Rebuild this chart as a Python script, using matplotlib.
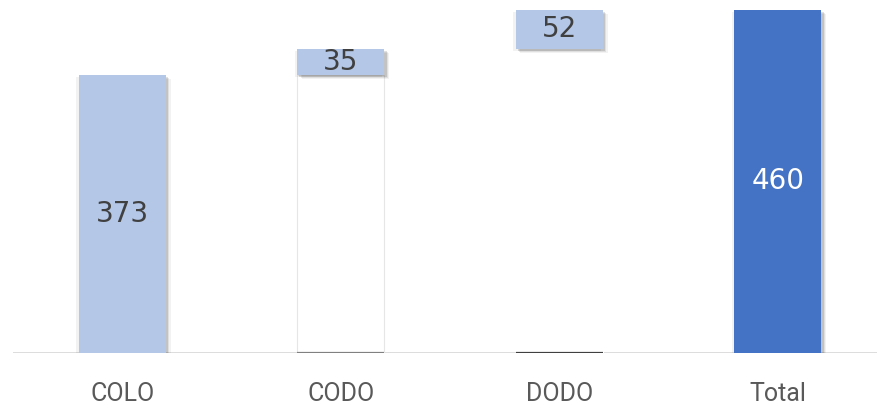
import matplotlib.pyplot as plt
import matplotlib.patheffects as pe

categories = ["COLO", "CODO", "DODO", "Total"]
values = [373, 35, 52, 460]
kinds = ["step", "step", "step", "total"]

light_blue = "#B4C7E7"
dark_blue = "#4472C4"

# bottoms for the floating steps
bottoms = []
running = 0
for v, k in zip(values, kinds):
    if k == "total":
        bottoms.append(0)
    else:
        bottoms.append(running)
        running += v

fig = plt.figure(figsize=(8.77, 4.08), dpi=100)
ax = fig.add_axes([13 / 877, 55 / 408, (4 * 218.5) / 877, 353 / 408])
ax.set_xlim(-0.5, 3.5)
ax.set_ylim(0, 473.4)

shadow = [
    pe.SimplePatchShadow(offset=(3.5, -3), shadow_rgbFace="#000000", alpha=0.05),
    pe.SimplePatchShadow(offset=(2.5, -2), shadow_rgbFace="#000000", alpha=0.08),
    pe.SimplePatchShadow(offset=(1.5, -1.5), shadow_rgbFace="#000000", alpha=0.12),
    pe.SimplePatchShadow(offset=(-1.5, -1.5), shadow_rgbFace="#000000", alpha=0.05),
    pe.Normal(),
]

width = 0.4
for i, (v, b, k) in enumerate(zip(values, bottoms, kinds)):
    # invisible base under floating steps
    if b > 0:
        ax.bar(i, b, width=width, color="white",
               edgecolor="#E6E6E6" if i == 1 else "white", linewidth=0.8, zorder=2)
        ax.plot([i - width / 2, i + width / 2], [0, 0],
                color="#808080" if i == 1 else "#404040", lw=1.6, zorder=4,
                solid_capstyle="butt")
    color = dark_blue if k == "total" else light_blue
    rect = ax.bar(i, v, bottom=b, width=width, color=color, zorder=3)[0]
    rect.set_path_effects(shadow)
    ax.text(i, b + v / 2, str(v), ha="center", va="center", fontsize=20,
            color="white" if k == "total" else "#404040",
            family="DejaVu Sans", zorder=5)

ax.axhline(0, color="#D9D9D9", lw=2, zorder=1)
for s in ax.spines.values():
    s.set_visible(False)
ax.set_yticks([])
ax.set_xticks(range(len(categories)))
ax.set_xticklabels(categories, fontsize=18, color="#595959", family="Roboto")
ax.tick_params(axis="x", length=0, pad=21)

fig.savefig("out.png", dpi=100)
